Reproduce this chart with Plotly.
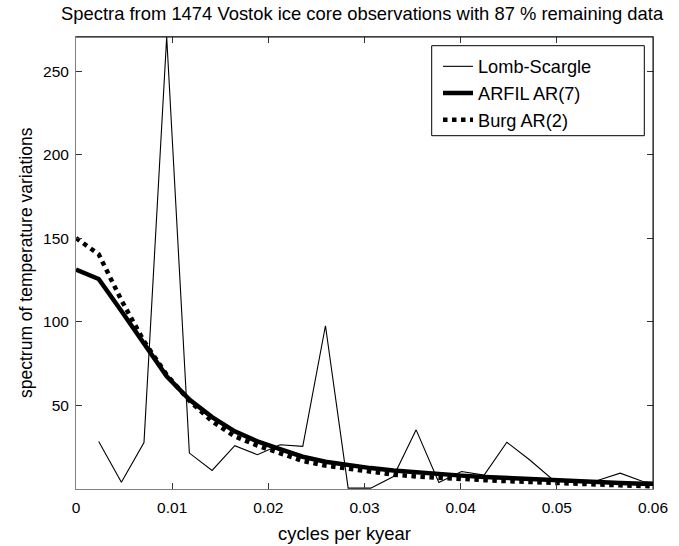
import plotly.graph_objects as go

# frequencies (cycles per kyear)
freq = [0.0, 0.00236, 0.00472, 0.00707, 0.00943, 0.01179, 0.01415, 0.01651,
        0.01886, 0.02122, 0.02358, 0.02594, 0.02830, 0.03065, 0.03301, 0.03537,
        0.03773, 0.04009, 0.04244, 0.04480, 0.04716, 0.04952, 0.05188, 0.05423,
        0.05659, 0.05895, 0.06131]
lomb_freq = freq[1:]
lomb_scargle = [28.4, 4.0, 27.8, 270.5, 21.5, 11.1, 25.9, 20.5, 26.5, 25.5, 97.7,
                0.5, 0.5, 7.5, 35.4, 3.9, 10.5, 8.3, 28.0, 17.5, 5.9, 5.1, 5.1,
                9.5, 4.5, 3.0]
arfil_ar7 = [131.3, 125.7, 106.5, 87.0, 67.5, 53.5, 43.0, 34.5, 28.5, 23.8, 19.3,
             16.3, 14.3, 12.5, 11.1, 9.9, 8.9, 8.0, 7.2, 6.5, 5.8, 5.2, 4.6, 4.1,
             3.6, 3.2, 2.9]
burg_ar2 = [150.2, 140.5, 113.0, 88.5, 68.3, 52.8, 40.5, 31.5, 26.0, 21.2, 16.8,
            14.0, 12.0, 10.2, 8.6, 7.5, 6.6, 5.9, 5.3, 4.7, 4.1, 3.6, 3.1, 2.7,
            2.2, 1.8, 1.5]

x_ticks = [0, 0.01, 0.02, 0.03, 0.04, 0.05, 0.06]
x_ticklabels = ["0", "0.01", "0.02", "0.03", "0.04", "0.05", "0.06"]
y_ticks = [50, 100, 150, 200, 250]

title_text = "Spectra from 1474 Vostok ice core observations with 87 % remaining data"
xlabel_text = "cycles per kyear"
ylabel_text = "spectrum of temperature variations"

W, H = 679, 546
L, R, T, B = 76, 26, 37, 57
PW, PH = W - L - R, H - T - B
FONT = "Liberation Sans, Arial, Helvetica, sans-serif"


def px(x):
    return (x - L) / PW


def py(y):
    return (H - B - y) / PH


fig = go.Figure()
fig.add_trace(go.Scatter(x=lomb_freq, y=lomb_scargle, mode="lines", name="Lomb-Scargle",
                         line=dict(color="black", width=1.1)))
fig.add_trace(go.Scatter(x=freq, y=arfil_ar7, mode="lines", name="ARFIL AR(7)",
                         line=dict(color="black", width=4.5)))
fig.add_trace(go.Scatter(x=freq, y=burg_ar2, mode="lines", name="Burg AR(2)",
                         line=dict(color="black", width=4.5, dash="dot")))

axis_common = dict(
    showline=True, linecolor="#808080", linewidth=1, mirror="ticks",
    ticks="inside", ticklen=6, tickcolor="#333", tickwidth=1,
    showgrid=False, zeroline=False,
    tickfont=dict(family=FONT, size=15.5, color="black"),
)

fig.update_layout(
    width=W, height=H,
    margin=dict(l=L, r=R, t=T, b=B),
    paper_bgcolor="white", plot_bgcolor="white",
    font=dict(family=FONT, color="black"),
    xaxis=dict(range=[0, 0.06], tickvals=x_ticks, ticktext=x_ticklabels,
               ticklabelstandoff=4, **axis_common),
    yaxis=dict(range=[0, 270.5], tickvals=y_ticks, ticklabelstandoff=3, **axis_common),
    showlegend=True,
    legend=dict(x=px(438), y=py(48), xanchor="left", yanchor="top",
                bgcolor="rgba(0,0,0,0)", borderwidth=0,
                font=dict(family=FONT, size=18.2, color="black"),
                tracegroupgap=0, itemwidth=30),
    shapes=[
        dict(type="rect", xref="paper", yref="paper",
             x0=px(431.7), x1=px(644.3), y0=py(135.7), y1=py(45.7),
             line=dict(color="black", width=1), fillcolor="rgba(0,0,0,0)", layer="above"),
        dict(type="line", xref="paper", yref="paper", x0=0, x1=1, y0=1, y1=1,
             line=dict(color="black", width=1), layer="above"),
        dict(type="line", xref="paper", yref="paper", x0=1, x1=1, y0=0, y1=1,
             line=dict(color="black", width=1), layer="above"),
    ],
    annotations=[
        dict(text=title_text, xref="paper", yref="paper", x=px(362), y=py(14),
             xanchor="center", yanchor="middle", showarrow=False,
             font=dict(family=FONT, size=18.4, color="black")),
        dict(text=xlabel_text, xref="paper", yref="paper", x=px(344), y=py(533),
             xanchor="center", yanchor="middle", showarrow=False,
             font=dict(family=FONT, size=18.4, color="black")),
        dict(text=ylabel_text, xref="paper", yref="paper", x=px(26), y=py(263),
             xanchor="center", yanchor="middle", showarrow=False, textangle=-90,
             font=dict(family=FONT, size=17.5, color="black")),
    ],
)

fig.write_html("out.html", config={"displayModeBar": False},
               post_script="document.body.style.margin='0px';")
